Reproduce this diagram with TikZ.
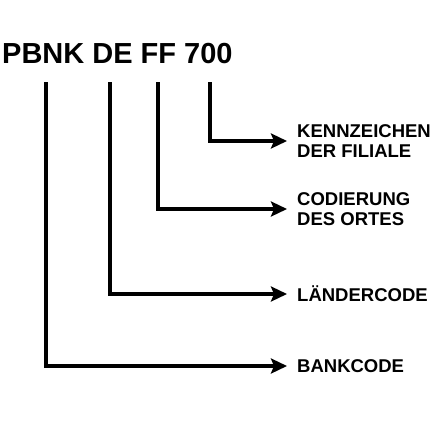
\documentclass[tikz,border=0pt]{standalone}
\usepackage{fontspec}
\setmainfont{Liberation Sans}
\newfontfamily\heavy{Liberation Sans Bold}
\usetikzlibrary{arrows.meta}

\begin{document}
\begin{tikzpicture}[x=1pt,y=-1pt,
  code/.style={font=\heavy\fontsize{29}{32}\selectfont,inner sep=0pt,anchor=west},
  part/.style={font=\heavy\fontsize{18.5}{20.5}\selectfont,align=left,inner xsep=10pt,inner ysep=0pt,anchor=west},
  link/.style={line width=3.5pt,-{Stealth[length=16pt,width=15pt,inset=3pt]}}]

\useasboundingbox (0,0) rectangle (440,440);

\node[code] (iban) at (2,54) {PBNK DE FF 700};

\coordinate (bank) at (46,82);
\coordinate (land) at (110,82);
\coordinate (ort) at (158,82);
\coordinate (filiale) at (210,82);

\node[part] (kennz) at (287,141) {KENNZEICHEN\\DER FILIALE};
\node[part] (codier) at (287,209) {CODIERUNG\\DES ORTES};
\node[part] (laender) at (287,294) {LÄNDERCODE};
\node[part] (bankcode) at (287,366) {BANKCODE};

\draw[link] (filiale) |- (kennz.west);
\draw[link] (ort) |- (codier.west);
\draw[link] (land) |- (laender.west);
\draw[link] (bank) |- (bankcode.west);

\end{tikzpicture}
\end{document}
